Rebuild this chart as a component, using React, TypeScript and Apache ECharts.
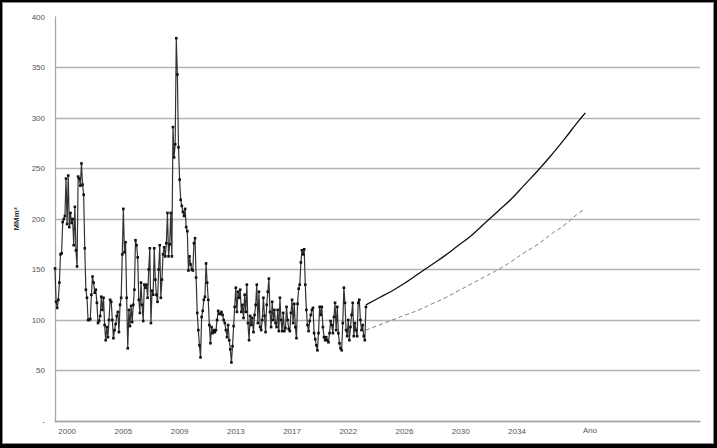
import { useEffect, useRef } from 'react';
import * as echarts from 'echarts';

// Monthly history (MMm³), Jan 2000 onwards
const hist2000 = [151, 118, 112, 120, 137, 165, 166, 197, 200, 203, 240, 195, 243, 192, 206, 196, 200, 174, 212, 169,
  153, 242, 240, 233, 255, 234, 224, 171, 130, 122, 100, 100, 101, 125, 143, 137, 127, 130, 117, 97,
  99, 104, 123, 110, 122, 95, 80, 93, 83, 100, 120, 118, 100, 82, 90, 96, 104, 108, 88, 115];
const hist2005 = [122, 165, 210, 167, 177, 122, 72, 110, 94, 114, 98, 115, 130, 179, 174, 162, 120, 107, 137, 115,
  99, 135, 132, 135, 122, 150, 171, 97, 129, 125, 171, 140, 125, 118, 150, 174, 122, 140, 165, 172,
  163, 176, 206, 163, 175, 206, 163, 291, 261, 274, 379, 343, 271, 239, 219, 213, 207, 203, 210, 192];
const hist2010 = [188, 149, 163, 155, 150, 149, 176, 181, 142, 107, 90, 75, 63, 103, 109, 120, 123, 156, 137, 120,
  95, 77, 93, 87, 90, 88, 90, 100, 109, 106, 106, 108, 105, 100, 97, 90, 83, 95, 80, 71,
  58, 74, 94, 113, 132, 108, 128, 122, 130, 108, 115, 102, 125, 108, 135, 97, 80, 104, 95, 102];
const hist2015 = [88, 105, 115, 135, 97, 128, 93, 90, 100, 122, 104, 88, 115, 128, 141, 108, 93, 118, 100, 110,
  97, 93, 110, 89, 122, 100, 89, 107, 89, 92, 113, 100, 91, 89, 107, 120, 97, 116, 93, 82,
  116, 131, 135, 157, 169, 165, 170, 135, 110, 95, 89, 99, 105, 110, 112, 87, 81, 75, 70, 87];
const hist2020 = [113, 105, 113, 93, 83, 80, 83, 80, 78, 87, 99, 95, 87, 103, 117, 90, 113, 87, 77, 72,
  70, 97, 132, 117, 90, 84, 100, 80, 93, 105, 117, 84, 97, 90, 84, 117, 120, 100, 90, 95,
  84, 80, 113];

// Projections (month index, value)
const projMonths = [282, 294, 306, 318, 330, 342, 354, 366, 378, 390, 402, 414, 426, 438, 450, 462, 474, 481];
const projHigh = [115, 122, 129, 137, 146, 155, 164, 174, 184, 196, 208, 220, 234, 248, 263, 279, 296, 305];
const projLow = [90, 95, 100, 105, 110, 116, 122, 129, 136, 143, 150, 158, 167, 175, 185, 194, 205, 210];

// Axis
const yearLabels = ['2000', '2005', '2009', '2013', '2017', '2022', '2026', '2030', '2034'];
const firstLabelMonth = 11;
const labelStep = 51;
const totalMonths = 586;

const history = [...hist2000, ...hist2005, ...hist2010, ...hist2015, ...hist2020];
const months = Array.from({ length: totalMonths }, (_, i) =>
  `${2000 + Math.floor(i / 12)}-${String((i % 12) + 1).padStart(2, '0')}`);

const isLabel = (i: number) => i >= firstLabelMonth && (i - firstLabelMonth) % labelStep === 0 &&
  (i - firstLabelMonth) / labelStep < yearLabels.length;

export default function App() {
  const ref = useRef<HTMLDivElement>(null);
  useEffect(() => {
    const chart = echarts.init(ref.current!, null, { renderer: 'svg' });
    const font = 'Liberation Sans, Arial, sans-serif';
    chart.setOption({
      animation: false,
      textStyle: { fontFamily: font },
      grid: { left: 55, right: 17, top: 17, bottom: 27 },
      xAxis: {
        type: 'category',
        data: months,
        boundaryGap: false,
        axisTick: { show: false },
        axisLine: { lineStyle: { color: '#a8a8a8', width: 1.3 } },
        axisLabel: {
          interval: (i: number) => isLabel(i),
          formatter: (_v: string, i: number) => isLabel(i) ? yearLabels[(i - firstLabelMonth) / labelStep] : '',
          fontSize: 8,
          color: '#555',
          margin: 6,
          fontFamily: font,
        },
        splitLine: { show: false },
      },
      yAxis: {
        type: 'value',
        min: 0,
        max: 400,
        interval: 50,
        name: 'MMm³',
        nameLocation: 'middle',
        nameRotate: 90,
        nameGap: 33,
        nameTextStyle: { fontSize: 8, fontWeight: 'bold', color: '#333', fontFamily: font },
        axisLine: { show: true, lineStyle: { color: '#a8a8a8', width: 1.3 } },
        axisTick: { show: false },
        axisLabel: {
          formatter: (v: number) => (v === 0 ? '-' : String(v)),
          fontSize: 8,
          color: '#555',
          margin: 10,
          fontFamily: font,
        },
        splitLine: { showMaxLine: false, lineStyle: { color: '#b4b4b4', width: 1.4 } },
      },
      series: [
        {
          type: 'line',
          data: history,
          symbol: 'rect',
          symbolSize: 2.6,
          showSymbol: true,
          showAllSymbol: true,
          itemStyle: { color: '#111' },
          lineStyle: { color: '#333', width: 1.2 },
          z: 3,
        },
        {
          type: 'line',
          data: projMonths.map((m, k) => [m, projHigh[k]]),
          smooth: true,
          showSymbol: false,
          symbol: 'none',
          lineStyle: { color: '#111', width: 1.3 },
        },
        {
          type: 'line',
          data: projMonths.map((m, k) => [m, projLow[k]]),
          smooth: true,
          showSymbol: false,
          symbol: 'none',
          lineStyle: { color: '#777', width: 1, type: [4, 3] },
        },
      ],
      graphic: [
        {
          type: 'text',
          left: 583,
          top: 426,
          style: { text: 'Ano', fontSize: 8, fill: '#555', fontFamily: font },
        },
      ],
    });
    return () => chart.dispose();
  }, []);
  return (
    <div style={{ position: 'fixed', left: 0, top: 0, width: 717, height: 448, background: '#000' }}>
      <div style={{ position: 'absolute', left: 2, top: 2, right: 3, bottom: 4, background: '#fff', border: '1px solid #8a8a8a', boxSizing: 'border-box' }} />
      <div ref={ref} style={{ position: 'absolute', left: 0, top: 0, width: 717, height: 448 }} />
    </div>
  );
}
